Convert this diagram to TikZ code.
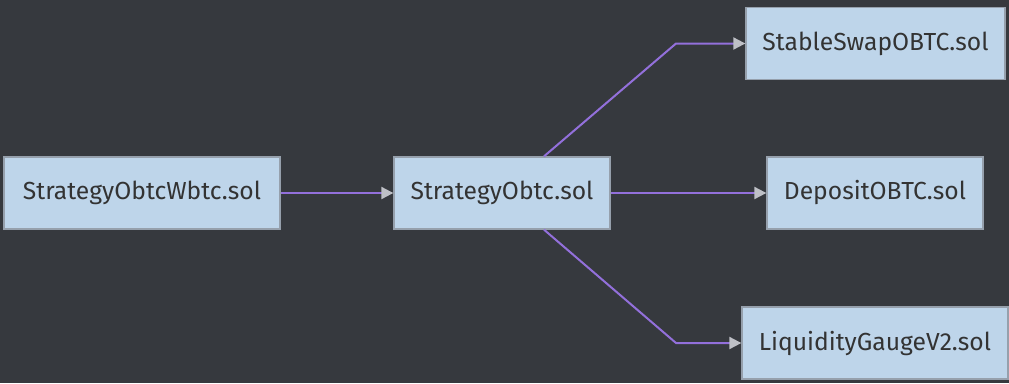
\documentclass[tikz,border=0pt]{standalone}
\usepackage{fontspec}
\setmainfont{Fira Sans}
\usetikzlibrary{arrows.meta}
\definecolor{bg}{RGB}{54,57,62}
\definecolor{nodefill}{RGB}{190,213,234}
\definecolor{nodeline}{RGB}{150,160,172}
\definecolor{txt}{RGB}{51,51,51}
\definecolor{edgec}{RGB}{147,112,219}
\definecolor{tipc}{RGB}{190,192,198}
\begin{document}
\begin{tikzpicture}[x=0.75pt,y=-0.75pt,
  box/.style={draw=nodeline,line width=1pt,fill=nodefill,text=txt,font=\fontsize{18.5}{22}\selectfont,minimum height=54pt,inner sep=0pt},
  edge/.style={draw=edgec,line width=1.5pt,-{Triangle[length=9pt,width=9pt,color=tipc]}}]
\fill[bg] (0,0) rectangle (1009,383);
\useasboundingbox (0,0) rectangle (1009,383);
\node[box,minimum width=207pt] (A) at (142,193) {StrategyObtcWbtc.sol};
\node[box,minimum width=162pt] (B) at (502,193) {StrategyObtc.sol};
\node[box,minimum width=194.25pt] (C) at (875.5,43.5) {StableSwapOBTC.sol};
\node[box,minimum width=162pt] (D) at (875,193) {DepositOBTC.sol};
\node[box,minimum width=199.5pt] (E) at (875,343) {LiquidityGaugeV2.sol};
\coordinate (bc) at (676,43.5);
\coordinate (be) at (676,343);
\draw[edge] (A.east) -- (B.west);
\draw[edge] (B.east) -- (D.west);
\draw[edge] ([xshift=31.5pt]B.north) -- (bc) -- (C.west);
\draw[edge] ([xshift=31.5pt]B.south) -- (be) -- (E.west);
\end{tikzpicture}
\end{document}
